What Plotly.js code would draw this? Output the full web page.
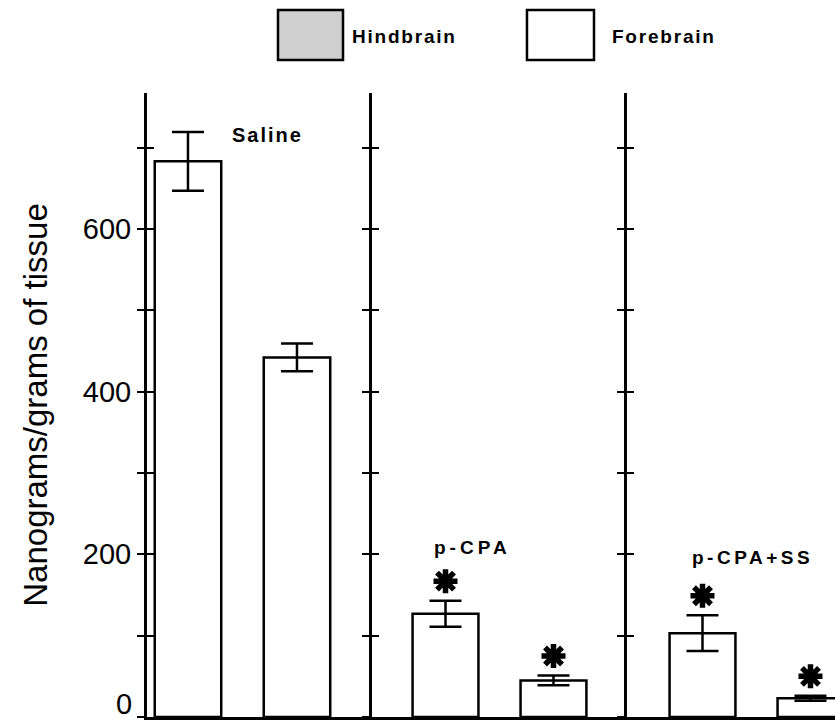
<!DOCTYPE html>
<html>
<head>
<meta charset="utf-8">
<script src="https://cdn.plot.ly/plotly-3.0.1.min.js"></script>
<style>
  html, body { margin: 0; padding: 0; background: #fff; }
  #chart { width: 835px; height: 721px; }
</style>
</head>
<body>
<div id="chart"></div>
<script>
// ---- data ----
const groups = ["Saline", "p-CPA", "p-CPA+SS"];
const regions = ["Hindbrain", "Forebrain"];
const hindMean = [683, 127, 103];
const hindErr = [36, 16, 22];
const foreMean = [442, 45, 23];
const foreErr = [17, 6, 3];
const hindSignificant = [false, true, true];
const foreSignificant = [false, true, true];
const yTickVals = [0, 100, 200, 300, 400, 500, 600, 700];
const yTickText = ["0", "", "200", "", "400", "", "600", ""];
const yTitle = "Nanograms/grams of tissue";

// ---- styling / layout constants ----
const FONT = "Liberation Sans, Arial, Helvetica, sans-serif";
const Y_RANGE = [0, 767];
const STAR_GAP = 24; // data units above the error bar top
const xRanges = [[-0.376, 1.688], [-0.681, 1.681], [-0.699, 1.227]];
const xDomains = [[0, 0.3270], [0.3270, 0.6977], [0.6977, 1]];

const traces = [];
groups.forEach((g, i) => {
  const xa = i === 0 ? "x" : "x" + (i + 1);
  const ya = i === 0 ? "y" : "y" + (i + 1);
  const means = [hindMean[i], foreMean[i]];
  const errs = [hindErr[i], foreErr[i]];
  traces.push({
    type: "bar",
    name: g,
    x: regions,
    y: means,
    xaxis: xa, yaxis: ya,
    width: 0.61,
    marker: { color: "#ffffff", line: { color: "#000", width: 2.5 } },
    error_y: { type: "data", array: errs, visible: true, color: "#000", thickness: 2.5, width: 16 },
    hoverinfo: "skip",
    showlegend: false
  });
  const sig = [hindSignificant[i], foreSignificant[i]];
  const sx = [], sy = [];
  sig.forEach((s, k) => { if (s) { sx.push(regions[k]); sy.push(means[k] + errs[k] + STAR_GAP); } });
  if (sx.length) {
    traces.push({
      type: "scatter", mode: "markers",
      x: sx, y: sy, xaxis: xa, yaxis: ya,
      marker: { symbol: "asterisk-open", size: 20, color: "#000", line: { color: "#000", width: 5.5 } },
      hoverinfo: "skip", showlegend: false
    });
  }
  // empty trace to activate the overlay axis that draws inward ticks
  traces.push({ type: "scatter", mode: "markers", x: [], y: [], xaxis: xa, yaxis: "y" + (i + 4), showlegend: false, hoverinfo: "skip" });
});

const layout = {
  width: 835, height: 721,
  margin: { l: 147, r: 0, t: 93, b: 4 },
  paper_bgcolor: "#fff", plot_bgcolor: "#fff",
  showlegend: false,
  font: { family: FONT, color: "#000" },
  annotations: [], shapes: []
};

// the zero label sits raised above the baseline, so it is drawn as an annotation
const tickTextOnAxis = yTickText.map((t, k) => (yTickVals[k] === 0 ? "" : t));

for (let i = 0; i < 3; i++) {
  const xk = i === 0 ? "xaxis" : "xaxis" + (i + 1);
  const yk = i === 0 ? "yaxis" : "yaxis" + (i + 1);
  const xa = i === 0 ? "x" : "x" + (i + 1);
  const ya = i === 0 ? "y" : "y" + (i + 1);
  layout[xk] = {
    domain: xDomains[i], anchor: ya, type: "category",
    range: xRanges[i], showline: true, linewidth: 3, linecolor: "#000",
    ticks: "", showticklabels: false, showgrid: false, zeroline: false, fixedrange: true
  };
  layout[yk] = {
    domain: [0, 1], anchor: xa, range: Y_RANGE,
    showline: true, linewidth: 3, linecolor: "#000",
    ticks: "outside", ticklen: 7, tickwidth: 2, tickcolor: "#000",
    tickvals: yTickVals, ticktext: tickTextOnAxis,
    showticklabels: i === 0,
    tickfont: { family: FONT, size: 29, color: "#000" },
    showgrid: false, zeroline: false, fixedrange: true
  };
  if (i === 0) {
    layout[yk].title = { text: yTitle, font: { family: FONT, size: 33, color: "#000" }, standoff: 26 };
  }
  layout["yaxis" + (i + 4)] = {
    overlaying: ya, anchor: xa, side: "left", range: Y_RANGE,
    showline: false, ticks: "inside", ticklen: 7, tickwidth: 2, tickcolor: "#000",
    tickvals: yTickVals, showticklabels: false, showgrid: false, zeroline: false, fixedrange: true
  };
}

const spacing = [];
// zero tick label
layout.annotations.push({
  text: yTickText[yTickVals.indexOf(0)], x: 0, y: 0, xref: "paper", yref: "y",
  xanchor: "right", yanchor: "bottom", xshift: -13, yshift: -5, showarrow: false,
  font: { family: FONT, size: 29, color: "#000" }
});
spacing.push(0);

// group labels
const groupLabelPos = [
  { x: 0.734, y: 715, xref: "x", yref: "y", sp: 2 },
  { x: 0.25, y: 208, xref: "x2", yref: "y2", sp: 4 },
  { x: 0.46, y: 196, xref: "x3", yref: "y3", sp: 3.5 }
];
groups.forEach((g, i) => {
  const p = groupLabelPos[i];
  layout.annotations.push({
    text: "<b>" + g + "</b>",
    x: p.x, y: p.y, xref: p.xref, yref: p.yref,
    showarrow: false, xanchor: "center", yanchor: "middle",
    font: { family: FONT, size: i === 0 ? 20 : 19, color: "#000" }
  });
  spacing.push(p.sp);
});

// legend (drawn manually to match the large swatches)
const LEGEND_SP = 1.8;
const legendSwatches = [
  { x0: 0.1904, x1: 0.2849, fill: "#cfcfcf", tx: 0.295 },
  { x0: 0.5523, x1: 0.6497, fill: "#ffffff", tx: 0.673 }
];
regions.forEach((r, k) => {
  const s = legendSwatches[k];
  layout.shapes.push({
    type: "rect", xref: "paper", yref: "paper",
    x0: s.x0, x1: s.x1, y0: 1.0529, y1: 1.133,
    fillcolor: s.fill, line: { color: "#000", width: 2.5 }
  });
  layout.annotations.push({
    text: "<b>" + r + "</b>", x: s.tx, y: 1.0913, xref: "paper", yref: "paper",
    showarrow: false, xanchor: "left", yanchor: "middle",
    xshift: r.length * LEGEND_SP / 2,
    font: { family: FONT, size: 19, color: "#000" }
  });
  spacing.push(LEGEND_SP);
});

Plotly.newPlot("chart", traces, layout, { displayModeBar: false, staticPlot: true }).then(() => {
  document.querySelectorAll(".annotation").forEach((a, idx) => {
    const t = a.querySelector(".annotation-text");
    if (!t) return;
    const sp = spacing[idx] || 0;
    if (sp) t.style.letterSpacing = sp + "px";
  });
});
</script>
</body>
</html>
